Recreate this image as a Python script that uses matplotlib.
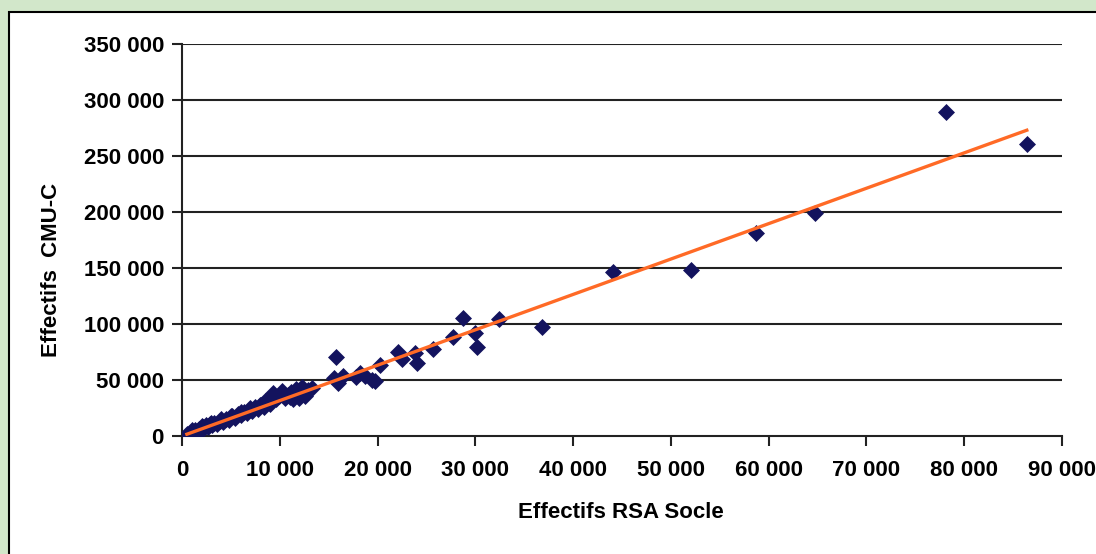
import matplotlib.pyplot as plt
from matplotlib.ticker import FuncFormatter

# effectifs RSA socle (x) et CMU-C (y), par departement
rsa_socle = [500, 700, 900, 1100, 1300, 1500, 1700, 1900, 2100, 2300, 2500, 2700,
             2900, 3100, 3300, 3600, 3900, 4200, 4500, 4800, 5100, 5400, 5700, 6000,
             6300, 6600, 6900, 7200, 7500, 7800, 8100, 8400, 8700, 9000, 9300, 9600,
             9900, 10200, 10500, 10800, 11100, 11400, 11700, 12000, 12300, 12600, 12900,
             13300, 1000, 2000, 3000, 4000, 5000, 6000, 7000, 8000, 8500, 11000, 12000,
             15500, 15800, 16000, 16500, 17800, 18200, 18700, 19400, 19700,
             20200, 22100, 22500, 23800, 24000, 25700, 27700, 28700, 30000, 30200,
             32400, 36800, 44100, 52100, 58700, 64700, 78100, 86400]
cmu_c = [2000, 1500, 3500, 3000, 5500, 4000, 6500, 5000, 8000, 7000, 9500, 8000,
         10500, 10000, 12000, 11000, 13500, 12500, 15000, 14500, 17500, 16000, 19500, 18500,
         21000, 20500, 23000, 22500, 25500, 24000, 28000, 26000, 31000, 29000, 38000, 33000,
         36000, 40000, 34000, 37000, 39000, 33000, 42000, 38000, 44000, 36000, 41000,
         43000, 5000, 8500, 11500, 15500, 18000, 21500, 25000, 27500, 31000, 35000, 34000,
         52000, 70500, 47000, 54000, 53000, 56000, 54000, 50000, 49000,
         63000, 75000, 69000, 74000, 65000, 77700, 88000, 105000, 92000, 79500,
         104500, 97000, 146500, 148000, 181000, 199000, 289000, 260700]

# tendance lineaire
trend_slope = 3.16
trend_intercept = 0

xticks = list(range(0, 90001, 10000))
yticks = list(range(0, 350001, 50000))

plt.rcParams['font.family'] = ['Liberation Sans', 'DejaVu Sans']

fig = plt.figure(figsize=(10.96, 5.54), dpi=100, facecolor='#d2e7ca')
# panneau blanc
fig.patches.append(plt.Rectangle((9 / 1096, -0.1), 1.2, 1 - 12 / 554 + 0.1,
                                 transform=fig.transFigure, facecolor='white',
                                 edgecolor='black', linewidth=1.5, zorder=-1))

ax = fig.add_axes([182 / 1096, 1 - 436 / 554, 880 / 1096, 392 / 554])
ax.set_facecolor('none')

for y in yticks[1:]:
    ax.axhline(y, color='#222222', linewidth=1.5, zorder=1)

ax.scatter(rsa_socle, cmu_c, marker='D', s=75, color='#13135e', zorder=3, linewidths=0)
tx = [min(rsa_socle), max(rsa_socle)]
ax.plot(tx, [trend_slope * v + trend_intercept for v in tx], color='#ff6a26',
        linewidth=2.4, zorder=4)

ax.set_xlim(0, 90000)
ax.set_ylim(0, 350000)
ax.set_xticks(xticks)
ax.set_yticks(yticks)
fmt = FuncFormatter(lambda v, p: f"{int(v):,}".replace(",", " "))
ax.xaxis.set_major_formatter(fmt)
ax.yaxis.set_major_formatter(fmt)
ax.tick_params(axis='both', direction='out', length=7, width=1.5, color='#222222',
               labelsize=16)
ax.tick_params(axis='x', pad=10)
ax.tick_params(axis='y', pad=6)
for lab in ax.get_xticklabels() + ax.get_yticklabels():
    lab.set_fontweight('bold')

ax.spines['top'].set_visible(False)
ax.spines['right'].set_visible(False)
ax.spines['left'].set_color('#222222')
ax.spines['bottom'].set_color('#222222')
ax.spines['left'].set_linewidth(1.5)
ax.spines['bottom'].set_linewidth(1.5)

fig.text(621 / 1096, 1 - 513 / 554, "Effectifs RSA Socle", ha='center', va='center',
         fontsize=16, fontweight='bold')
fig.text(52 / 1096, 1 - 270 / 554, "Effectifs  CMU-C", ha='center', va='center',
         rotation=90, fontsize=16, fontweight='bold')

fig.savefig('out.png', dpi=100, facecolor=fig.get_facecolor())
